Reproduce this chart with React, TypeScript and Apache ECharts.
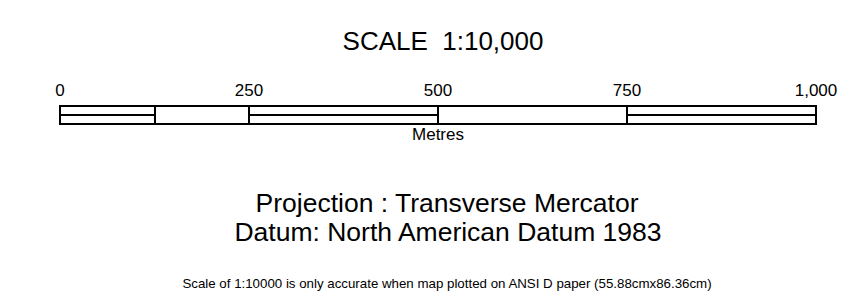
import React, { useEffect, useRef } from "react";
import * as echarts from "echarts";

const tickValues = [0, 250, 500, 750, 1000];
// segments: [start, end, split (1 = divided into two rows)]
const segStarts = [0, 125, 250, 500, 750];
const segEnds = [125, 250, 500, 750, 1000];
const segSplit = [1, 0, 1, 0, 1];

const titleText = "SCALE  1:10,000";
const unitText = "Metres";
const projectionText = "Projection : Transverse Mercator";
const datumText = "Datum: North American Datum 1983";
const noteText =
  "Scale of 1:10000 is only accurate when map plotted on ANSI D paper (55.88cmx86.36cm)";

const FONT = "'Liberation Sans', Arial, sans-serif";

export default function App() {
  const ref = useRef<HTMLDivElement>(null);
  useEffect(() => {
    document.body.style.margin = "0";
    const chart = echarts.init(ref.current!, null, { renderer: "svg" });
    const data = segStarts.map((s, i) => [s, segEnds[i], segSplit[i]]);
    chart.setOption({
      animation: false,
      backgroundColor: "#ffffff",
      grid: { left: 60, right: 34, top: 106, height: 18 },
      xAxis: {
        type: "value",
        min: tickValues[0],
        max: tickValues[tickValues.length - 1],
        interval: tickValues[1] - tickValues[0],
        position: "top",
        axisLine: { show: false },
        axisTick: { show: false },
        splitLine: { show: false },
        axisLabel: {
          margin: 7,
          color: "#000",
          fontSize: 17,
          fontFamily: FONT,
          showMinLabel: true,
          showMaxLabel: true,
          formatter: (v: number) => v.toLocaleString("en-US"),
        },
      },
      yAxis: {
        type: "value",
        min: 0,
        max: 2,
        show: false,
      },
      series: [
        {
          type: "custom",
          data,
          renderItem: (params: any, api: any) => {
            const s = api.value(0);
            const e = api.value(1);
            const split = api.value(2);
            const tl = api.coord([s, 2]);
            const br = api.coord([e, 0]);
            const mid = api.coord([s, 1]);
            const style = { fill: "#fff", stroke: "#000", lineWidth: 2 };
            const x = Math.round(tl[0]);
            const w = Math.round(br[0]) - x;
            if (split) {
              return {
                type: "group",
                children: [
                  { type: "rect", shape: { x, y: tl[1], width: w, height: mid[1] - tl[1] }, style },
                  { type: "rect", shape: { x, y: mid[1], width: w, height: br[1] - mid[1] }, style },
                ],
              };
            }
            return {
              type: "rect",
              shape: { x, y: tl[1], width: w, height: br[1] - tl[1] },
              style,
            };
          },
        },
      ],
      graphic: [
        {
          type: "text",
          x: 443,
          y: 41,
          style: { text: titleText, font: `26px ${FONT}`, fill: "#000", align: "center", verticalAlign: "middle" },
        },
        {
          type: "text",
          x: 438,
          y: 134,
          style: { text: unitText, font: `17px ${FONT}`, fill: "#000", align: "center", verticalAlign: "middle" },
        },
        {
          type: "text",
          x: 447,
          y: 203,
          style: { text: projectionText, font: `26.5px ${FONT}`, fill: "#000", align: "center", verticalAlign: "middle" },
        },
        {
          type: "text",
          x: 448,
          y: 232,
          style: { text: datumText, font: `26.5px ${FONT}`, fill: "#000", align: "center", verticalAlign: "middle" },
        },
        {
          type: "text",
          x: 447,
          y: 283,
          style: { text: noteText, font: `13.3px ${FONT}`, fill: "#000", align: "center", verticalAlign: "middle" },
        },
      ],
    });
    return () => chart.dispose();
  }, []);
  return <div ref={ref} style={{ width: 850, height: 297 }} />;
}
